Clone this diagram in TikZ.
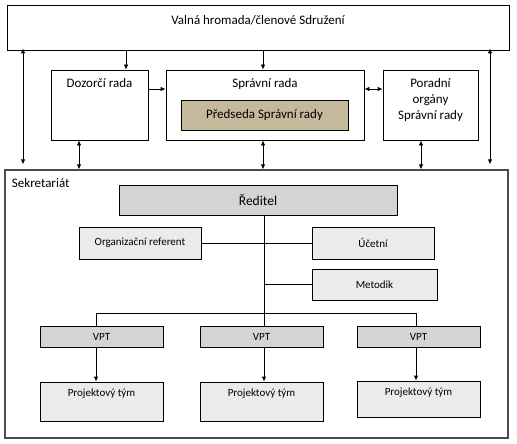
\documentclass[tikz,border=0pt]{standalone}
\usepackage{fontspec}
\setmainfont{Carlito}
\usetikzlibrary{arrows.meta}
\definecolor{hnedy}{RGB}{196,185,154}
\definecolor{sedy}{RGB}{212,212,212}
\definecolor{svetly}{RGB}{235,235,235}
\tikzstyle{blok} = [draw=black, thick, rectangle, inner sep=0pt]
\tikzstyle{maly} = [blok, fill=svetly, font=\fontsize{11}{13}\selectfont]
\tikzstyle{sipka} = [-{Latex[length=5pt,width=4.5pt]}, thick]
\tikzstyle{obousip} = [{Latex[length=5pt,width=4.5pt]}-{Latex[length=5pt,width=4.5pt]}, thick]
\tikzstyle{horni} = [font=\fontsize{13}{16}\selectfont, align=center, anchor=north]

\begin{document}
\begin{tikzpicture}[x=1pt,y=-1pt]
		\useasboundingbox (0,0) rectangle (517,444);
		% vedeni
		\node[blok, minimum width=502, minimum height=45, label={[horni, below=7pt]north:Valná hromada/členové Sdružení}](valna) at (258,27.5){};
		\node[blok, minimum width=97, minimum height=70, label={[horni, below=5pt]north:Dozorčí rada}](dozorci) at (99.5,105){};
		\node[blok, minimum width=198, minimum height=70, label={[horni, below=5pt]north:Správní rada}](spravni) at (265,105){};
		\node[blok, fill=hnedy, minimum width=167, minimum height=30, font=\fontsize{13}{16}\selectfont](predseda) at (264.5,115){Předseda Správní rady};
		\node[blok, minimum width=95, minimum height=70, label={[horni, below=5pt, font=\fontsize{13}{16}\selectfont]north:Poradní\\orgány\\Správní rady}](poradni) at (430.5,105){};
		\node[blok, draw=black!70, line width=1.2pt, minimum width=503, minimum height=268, label={[horni, anchor=north west, xshift=4pt, yshift=-6pt]north west:Sekretariát}](sekr) at (256.5,304){};
		
		\draw[sipka] (valna.south -| 126,0) -- (dozorci.north -| 126,0);
		\draw[sipka] (valna.south -| 263,0) -- (spravni.north -| 263,0);
		\draw[sipka] (dozorci.east |- 0,89) -- (spravni.west |- 0,89);
		\draw[obousip] (spravni.east |- 0,89) -- (poradni.west |- 0,89);
		\draw[obousip] ([yshift=2pt]valna.south -| 23,0) -- ([yshift=5pt]sekr.north -| 23,0);
		\draw[obousip] ([yshift=2pt]valna.south -| 490,0) -- ([yshift=5pt]sekr.north -| 490,0);
		\draw[obousip] (dozorci.south -| 79,0) -- (sekr.north -| 79,0);
		\draw[obousip] (spravni.south -| 263,0) -- (sekr.north -| 263,0);
		\draw[obousip] (poradni.south -| 421,0) -- (sekr.north -| 421,0);
		
		% sekretariat
		\node[blok, fill=sedy, minimum width=278, minimum height=30, font=\fontsize{13.5}{16}\selectfont](reditel) at (258,200){Ředitel};
		\node[maly, minimum width=122, minimum height=32](referent) at (140,243){Organizační referent};
		\node[maly, minimum width=122, minimum height=32](ucetni) at (373,243){Účetní};
		\node[maly, minimum width=125, minimum height=31](metodik) at (374.5,284.5){Metodik};
		\coordinate (kmen) at (264,313);
		\draw[thick] (reditel.south -| kmen) -- (kmen);
		\draw[thick] (referent.east) -- (ucetni.west);
		\draw[thick] (metodik.west) -- (metodik.west -| kmen);
		\draw[thick] (96,313) -- (416,313);
		
		\foreach \i/\x/\px/\py/\ph in {1/101.5/96/401.5/39, 2/261.5/264/401.5/39, 3/418.5/416/399/36}{
			\node[maly, fill=sedy, minimum width=123, minimum height=21](vpt\i) at (\x,336.5){VPT};
			\node[maly, minimum width=123, minimum height=\ph, label={[horni, font=\fontsize{11}{13}\selectfont, below=4pt]north:Projektový tým}](tym\i) at (\x,\py){};
			\draw[thick] (vpt\i.north -| \px,0) -- (\px,313);
			\draw[sipka] (vpt\i.south -| \px,0) -- (tym\i.north -| \px,0);
		}
	\end{tikzpicture}
\end{document}
